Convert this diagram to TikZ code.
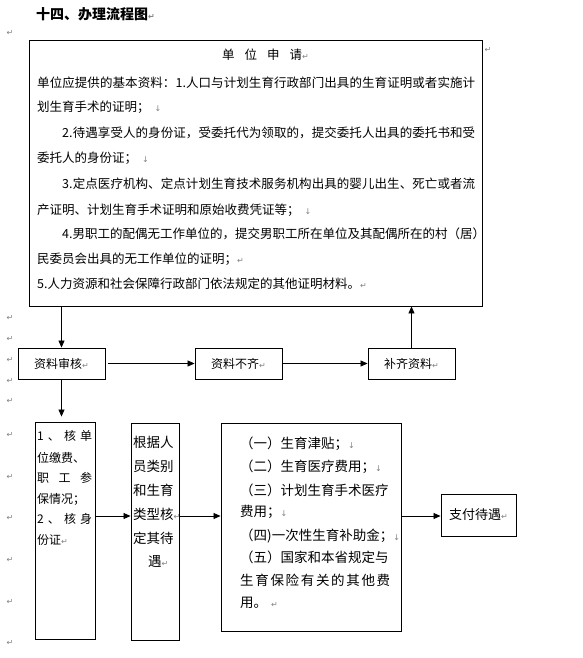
\documentclass[tikz,border=0pt]{standalone}
\usepackage{fontspec}
\setmainfont{Noto Sans CJK SC}
\newfontfamily\markfont{DejaVu Sans}
\usetikzlibrary{arrows.meta}

\newcommand\retmark{{\markfont\fontsize{8}{8}\selectfont\color{gray}↵}}
\newcommand\brkmark{{\markfont\fontsize{8}{8}\selectfont\color{gray}↓}}

\makeatletter
\newcommand\spreadto[2]{\makebox[#1][s]{\spread@chars#2\@nil}}
\def\spread@chars#1#2\@nil{#1\ifx\relax#2\relax\else\hfil\spread@chars#2\@nil\fi}
\makeatother

\begin{document}
\begin{tikzpicture}[x=1pt,y=-1pt,
	box/.style={draw,line width=0.9pt,inner sep=0pt},
	flow/.style={line width=0.8pt,-{Triangle[length=7pt,width=6pt]}},
	txt/.style={anchor=base west,inner sep=0pt}]
	\useasboundingbox (0,0) rectangle (582,658);

	\node[txt,font=\bfseries\fontsize{14}{14}\selectfont] (title) at (36,20) {十四、办理流程图\retmark};

	% application box
	\node[box,minimum width=453,minimum height=266] (apply) at (255.5,173) {};
	\node[txt,font=\fontsize{12.5}{12.5}\selectfont] (head) at (222,60) {单\hspace{10pt}位\hspace{10pt}申\hspace{10pt}请\retmark};
	\foreach \x/\y/\t [count=\i] in {
		37/88/{\spreadto{438pt}{单位应提供的基本资料：1.人口与计划生育行政部门出具的生育证明或者实施计}},
		37/112/{划生育手术的证明；\hspace{5pt}\brkmark},
		62/138/{\spreadto{413pt}{2.待遇享受人的身份证，受委托代为领取的，提交委托人出具的委托书和受}},
		37/162/{委托人的身份证；\hspace{5pt}\brkmark},
		62/188/{\spreadto{413pt}{3.定点医疗机构、定点计划生育技术服务机构出具的婴儿出生、死亡或者流}},
		37/214/{产证明、计划生育手术证明和原始收费凭证等；\hspace{5pt}\brkmark},
		62/238/{\spreadto{413pt}{4.男职工的配偶无工作单位的，提交男职工所在单位及其配偶所在的村（居）}},
		37/263/{民委员会出具的无工作单位的证明；\retmark},
		37/288/{5.人力资源和社会保障行政部门依法规定的其他证明材料。\retmark}}
		\node[txt,font=\fontsize{12.5}{12.5}\selectfont] (doc\i) at (\x,\y) {\t};

	% second row
	\node[box,minimum width=87,minimum height=31,font=\fontsize{12}{12}\selectfont] (audit) at (61.5,363.5) {资料审核\retmark};
	\node[box,minimum width=87,minimum height=31,font=\fontsize{12}{12}\selectfont] (lack) at (238.5,363.5) {资料不齐\retmark};
	\node[box,minimum width=87,minimum height=31,font=\fontsize{12}{12}\selectfont] (supply) at (411.5,363.5) {补齐资料\retmark};

	% bottom row
	\node[box,minimum width=60,minimum height=217] (checkA) at (65.5,530.5) {};
	\node[box,minimum width=48,minimum height=217] (rank) at (155,531.5) {};
	\node[box,minimum width=180,minimum height=208] (items) at (311,527) {};
	\node[box,minimum width=75,minimum height=42,font=\fontsize{13}{13}\selectfont] (pay) at (478.5,515) {支付待遇\retmark};

	\foreach \y/\t [count=\i] in {440.5/{\spreadto{55pt}{1、核单}}, 462.5/位缴费、,
		482.5/{\spreadto{55pt}{职工参}}, 503.5/保情况；, 523.5/{\spreadto{55pt}{2、核身}}, 544.5/份证\retmark}
		\node[txt,font=\fontsize{12}{12}\selectfont] (checkA\i) at (37,\y) {\t};

	\foreach \x/\y/\t [count=\i] in {133/447/根据人, 133/471/员类别, 133/495/和生育,
		133/519/类型核\retmark, 133/543/定其待, 148/566/遇\retmark}
		\node[txt,font=\fontsize{13.5}{13.5}\selectfont] (rank\i) at (\x,\y) {\t};

	\foreach \y/\t [count=\i] in {448/（一）生育津贴；\brkmark, 471/（二）生育医疗费用；\brkmark,
		495/{\spreadto{148pt}{（三）计划生育手术医疗}}, 516/费用；\brkmark,
		540/（四)一次性生育补助金；\brkmark, 562/{\spreadto{147pt}{（五）国家和本省规定与}},
		585/{\spreadto{150pt}{生育保险有关的其他费}}, 607/用。\hspace{4pt}\retmark}
		\node[txt,font=\fontsize{13.5}{13.5}\selectfont] (items\i) at (240,\y) {\t};

	% connectors
	\coordinate (row) at (0,516);
	\draw[flow] (apply.south -| audit) -- (audit.north);
	\draw[flow,shorten <=3pt] (audit) -- (lack);
	\draw[flow] (lack) -- (supply);
	\draw[flow] (supply.north) -- (supply.north |- apply.south);
	\draw[flow,shorten >=5pt] (audit.south) -- (audit.south |- checkA.north);
	\draw[flow] (checkA.east |- row) -- (rank.west |- row);
	\draw[flow] (rank.east |- row) -- (items.west |- row);
	\draw[flow] (items.east |- row) -- (pay.west |- row);

	% paragraph marks
	\node (rmark) at (488,50) {\retmark};
	\foreach \y [count=\i] in {33,318,339,360,381,401,435,477,518,560,602,643}
		\node (lmark\i) at (10,\y) {\retmark};
\end{tikzpicture}
\end{document}
